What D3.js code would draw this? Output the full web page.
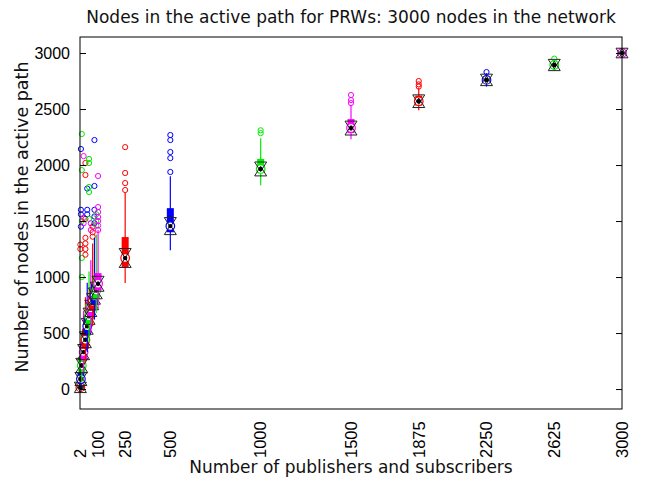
<!DOCTYPE html>
<html>
<head>
<meta charset="utf-8">
<script src="https://cdn.jsdelivr.net/npm/d3@7/dist/d3.min.js"></script>
<style>
  html, body { margin: 0; padding: 0; background: #fff; }
  svg { display: block; }
  text { font-family: "Liberation Sans", Arial, sans-serif; fill: #000; }
  .lbl { font-family: "DejaVu Sans", sans-serif; font-size: 17px; fill: #111; }
</style>
</head>
<body>
<svg id="chart" width="646" height="482"></svg>
<script>
// ---- data ----
const positions = [2, 5, 10, 20, 30, 40, 50, 60, 70, 80, 90, 100, 250, 500, 1000, 1500, 1875, 2250, 2625, 3000];
const tickLabels = ["2", "100", "250", "500", "1000", "1500", "1875", "2250", "2625", "3000"];
const tickValues = [2, 100, 250, 500, 1000, 1500, 1875, 2250, 2625, 3000];
const yTicks = [0, 500, 1000, 1500, 2000, 2500, 3000];
const groupColors = ["#ff0000", "#0000ff", "#00ee00", "#ff00ff"];
const medians   = [15, 90, 210, 330, 440, 560, 650, 720, 780, 830, 880, 940, 1170, 1455, 1965, 2330, 2570, 2760, 2893, 3000];
const q1        = [5, 50, 150, 260, 360, 480, 570, 640, 700, 750, 800, 880, 1090, 1400, 1930, 2285, 2530, 2735, 2870, 2998];
const q3        = [30, 150, 290, 420, 540, 660, 760, 830, 890, 940, 1000, 1035, 1357, 1615, 2055, 2410, 2620, 2790, 2920, 3000];
const whiskLow  = [2, 10, 60, 150, 230, 330, 420, 500, 560, 620, 680, 720, 946, 1240, 1820, 2230, 2490, 2700, 2840, 2995];
const whiskHigh = [70, 300, 500, 700, 820, 950, 1050, 1150, 1300, 1350, 1380, 1420, 1750, 1900, 2240, 2535, 2690, 2820, 2930, 3000];
const outliers = [
  [1290, 1250],
  [2143, 1600, 1560, 1450],
  [2277, 1955, 1500, 1170, 1000],
  [2080, 1530, 1480],
  [2018, 1911, 1520, 1350, 1300, 1250, 1200],
  [1790, 1600, 1560],
  [2054, 2018, 1804, 1759, 1520],
  [1480, 1420],
  [1450, 1400, 1360],
  [2223, 1813, 1600, 1540, 1480],
  [1560, 1500, 1460],
  [1902, 1625, 1580, 1536, 1500, 1460, 1420],
  [2160, 1929, 1839, 1777],
  [2268, 2223, 2116, 2062, 1938],
  [2310, 2285],
  [2625, 2580, 2553],
  [2750, 2720, 2700],
  [2830],
  [2950],
  []
];
const runsPerGroup = 100; // used for MATLAB notch width: 1.57*IQR/sqrt(n)

// ---- layout ----
const svg = d3.select("#chart");
const L = 80, R = 622, T = 37, B = 409;
const x = d3.scaleLinear().domain([0, 3000]).range([L, R]);
const y = d3.scaleLinear().domain([-178, 3143]).range([B, T]);

const groups = positions.map((p, i) => ({
  p, i, color: groupColors[i % 4],
  med: medians[i], q1: q1[i], q3: q3[i], lo: whiskLow[i], hi: whiskHigh[i], out: outliers[i]
}));

const plot = svg.append("g");
const tri = 6, triH = 9.5;
groups.forEach(g => {
  const gx = x(g.p);
  const gg = plot.append("g");
  gg.append("line").attr("x1", gx).attr("x2", gx).attr("y1", y(g.lo)).attr("y2", y(g.hi))
    .attr("stroke", g.color).attr("stroke-width", 1.2);
  gg.append("rect").attr("x", gx - 3.5).attr("width", 7)
    .attr("y", y(g.q3)).attr("height", Math.max(1, y(g.q1) - y(g.q3)))
    .attr("fill", g.color);
  gg.selectAll("circle.out").data(g.out).join("circle").attr("class", "out")
    .attr("cx", gx).attr("cy", d => y(d)).attr("r", 2.6)
    .attr("fill", "none").attr("stroke", g.color).attr("stroke-width", 1);
  gg.append("circle").attr("cx", gx).attr("cy", y(g.med)).attr("r", 4.3)
    .attr("fill", "#fff").attr("stroke", g.color).attr("stroke-width", 1.2);
  const nh = 1.57 * (g.q3 - g.q1) / Math.sqrt(runsPerGroup);
  const yu = y(g.med + nh), yl = y(g.med - nh);
  gg.append("path")
    .attr("d", `M${gx - tri},${yu - triH / 2}L${gx + tri},${yu - triH / 2}L${gx},${yu + triH / 2}Z`)
    .attr("fill", "none").attr("stroke", "#222").attr("stroke-width", 1);
  gg.append("path")
    .attr("d", `M${gx - tri},${yl + triH / 2}L${gx + tri},${yl + triH / 2}L${gx},${yl - triH / 2}Z`)
    .attr("fill", "none").attr("stroke", "#222").attr("stroke-width", 1);
  gg.append("circle").attr("cx", gx).attr("cy", y(g.med)).attr("r", 2.2).attr("fill", "#000");
});

// frame
svg.append("rect").attr("x", L).attr("y", T).attr("width", R - L).attr("height", B - T)
  .attr("fill", "none").attr("stroke", "#000").attr("stroke-width", 1);

// y axis (ticks inward on both sides)
const yAxisL = d3.axisLeft(y).tickValues(yTicks).tickSizeInner(-6).tickSizeOuter(0).tickPadding(10).tickFormat(d3.format("d"));
const gy = svg.append("g").attr("transform", `translate(${L},0)`).call(yAxisL);
gy.select(".domain").remove();
gy.selectAll("text").style("font-size", "16px").style("font-family", "Liberation Sans, Arial, sans-serif");
const yAxisR = d3.axisRight(y).tickValues(yTicks).tickSizeInner(-6).tickSizeOuter(0).tickFormat("");
const gyr = svg.append("g").attr("transform", `translate(${R},0)`).call(yAxisR);
gyr.select(".domain").remove();

// x tick labels (rotated)
svg.append("g").selectAll("text").data(tickValues).join("text")
  .attr("transform", d => `translate(${x(d)},458) rotate(-90)`)
  .attr("text-anchor", "start").attr("dy", "0.35em")
  .style("font-size", "16.5px")
  .text((d, i) => tickLabels[i]);

// titles
svg.append("text").attr("class", "lbl").attr("x", 351).attr("y", 23).attr("text-anchor", "middle")
  .text("Nodes in the active path for PRWs: 3000 nodes in the network");
svg.append("text").attr("class", "lbl").attr("x", 351).attr("y", 473).attr("text-anchor", "middle")
  .text("Number of publishers and subscribers");
svg.append("text").attr("class", "lbl").attr("transform", "translate(28,217) rotate(-90)").attr("text-anchor", "middle")
  .style("font-size", "17.5px")
  .text("Number of nodes in the active path");
</script>
</body>
</html>
